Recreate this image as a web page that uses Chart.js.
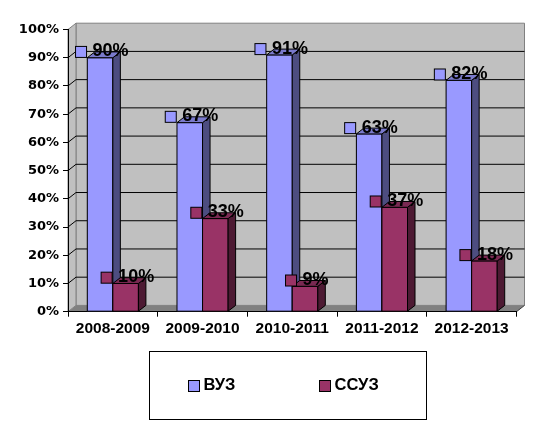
<!DOCTYPE html>
<html><head><meta charset="utf-8">
<script src="https://cdn.jsdelivr.net/npm/chart.js@4"></script>
<style>html,body{margin:0;padding:0;background:#fff;}#wrap{width:539px;height:444px;position:relative;}</style>
</head><body><div id="wrap"><canvas id="c" width="539" height="444"></canvas></div>
<script>
const categories = ['2008-2009','2009-2010','2010-2011','2011-2012','2012-2013'];
const vuz = [90, 67, 91, 63, 82];
const ssuz = [10, 33, 9, 37, 18];
const seriesNames = ['ВУЗ', 'ССУЗ'];
const frontColors = ['#9999FF', '#993366'];
const sideColors = ['#4D4D80', '#4D1A33'];
const topColors = ['#7A7ACC', '#7A2952'];

const WALL_DX = 8, WALL_DY = 6.3, BAR_DX = 7.5, BAR_DY = 5.8;

function poly(ctx, pts, fill, stroke) {
  ctx.beginPath();
  ctx.moveTo(pts[0][0], pts[0][1]);
  for (let i = 1; i < pts.length; i++) ctx.lineTo(pts[i][0], pts[i][1]);
  ctx.closePath();
  if (fill) { ctx.fillStyle = fill; ctx.fill(); }
  if (stroke) { ctx.strokeStyle = stroke; ctx.lineWidth = 1; ctx.stroke(); }
}

const walls = {
  id: 'walls',
  beforeDraw(chart) {
    const { ctx, chartArea: a, scales: { y } } = chart;
    const L = a.left, R = a.right, T = a.top, B = a.bottom;
    const dx = WALL_DX, dy = WALL_DY;
    ctx.save();
    poly(ctx, [[L + dx, T - dy], [R + dx, T - dy], [R + dx, B - dy], [L + dx, B - dy]], '#C0C0C0', '#808080');
    poly(ctx, [[L, T], [L + dx, T - dy], [L + dx, B - dy], [L, B]], '#C0C0C0', '#808080');
    ctx.strokeStyle = '#000'; ctx.lineWidth = 1;
    y.ticks.forEach(t => {
      if (t.value <= 0 || t.value >= 100) return;
      const py = y.getPixelForValue(t.value);
      ctx.beginPath();
      ctx.moveTo(L, py);
      ctx.lineTo(L + dx, py - dy);
      ctx.lineTo(R + dx, py - dy);
      ctx.stroke();
    });
    poly(ctx, [[L, B], [L + dx, B - dy], [R + dx, B - dy], [R, B]], '#808080', null);
    ctx.strokeStyle = '#404040';
    ctx.beginPath(); ctx.moveTo(R, B); ctx.lineTo(R + dx, B - dy); ctx.stroke();
    ctx.restore();
  }
};

const bars3d = {
  id: 'bars3d',
  afterDatasetsDraw(chart) {
    const ctx = chart.ctx;
    const dx = BAR_DX, dy = BAR_DY;
    ctx.save();
    ctx.lineJoin = 'miter';
    const n = categories.length;
    for (let i = 0; i < n; i++) {
      for (let d = 0; d < 2; d++) {
        const el = chart.getDatasetMeta(d).data[i];
        const p = el.getProps(['x', 'y', 'base', 'width'], true);
        const l = p.x - p.width / 2, r = p.x + p.width / 2, t = p.y, b = p.base;
        poly(ctx, [[l, t], [r, t], [r, b], [l, b]], frontColors[d], '#000');
        poly(ctx, [[r, t], [r + dx, t - dy], [r + dx, b - dy], [r, b]], sideColors[d], '#000');
        poly(ctx, [[l, t], [r, t], [r + dx, t - dy], [l + dx, t - dy]], topColors[d], '#000');
      }
    }
    // data labels
    ctx.font = 'bold 18px "Liberation Sans", Arial';
    ctx.textBaseline = 'middle';
    ctx.textAlign = 'left';
    for (let d = 0; d < 2; d++) {
      const meta = chart.getDatasetMeta(d);
      const vals = chart.data.datasets[d].data;
      meta.data.forEach((el, i) => {
        const p = el.getProps(['x', 'y'], true);
        const txt = vals[i] + '%';
        const tw = ctx.measureText(txt).width;
        const key = 11, gap = 6;
        const gw = key + gap + tw;
        const sx = p.x + 2 - gw / 2;
        const cy = p.y - dy;
        ctx.fillStyle = frontColors[d];
        ctx.fillRect(sx, cy - key / 2, key, key);
        ctx.strokeStyle = '#000'; ctx.lineWidth = 1;
        ctx.strokeRect(sx, cy - key / 2, key, key);
        ctx.fillStyle = '#000';
        ctx.fillText(txt, sx + key + gap, cy - 0.5);
      });
    }
    ctx.restore();
  }
};

const legendBox = {
  id: 'legendBox',
  afterDraw(chart) {
    const ctx = chart.ctx;
    ctx.save();
    ctx.strokeStyle = '#000'; ctx.lineWidth = 1;
    ctx.strokeRect(149.5, 351.5, 277, 68);
    ctx.font = 'bold 16.5px "Liberation Sans", Arial';
    ctx.textBaseline = 'alphabetic';
    ctx.textAlign = 'left';
    const keyX = [188, 319];
    chart.data.datasets.forEach((ds, d) => {
      ctx.fillStyle = ds.backgroundColor;
      ctx.fillRect(keyX[d], 380.5, 11, 11);
      ctx.strokeRect(keyX[d] + 0.5, 380.5, 11, 11);
      ctx.fillStyle = '#000';
      ctx.fillText(ds.label, keyX[d] + 15.5, 389.5);
    });
    ctx.restore();
  }
};

new Chart(document.getElementById('c'), {
  type: 'bar',
  data: {
    labels: categories,
    datasets: [
      { label: seriesNames[0], data: vuz, backgroundColor: frontColors[0], borderColor: '#000', borderWidth: 1 },
      { label: seriesNames[1], data: ssuz, backgroundColor: frontColors[1], borderColor: '#000', borderWidth: 1 }
    ]
  },
  options: {
    responsive: false,
    animation: false,
    devicePixelRatio: 1,
    layout: { padding: { top: 29.5, right: 22.5, left: 0, bottom: 0 } },
    datasets: { bar: { categoryPercentage: 0.57, barPercentage: 1.0 } },
    plugins: { legend: { display: false }, tooltip: { enabled: false } },
    scales: {
      x: {
        offset: true,
        grid: { offset: true, drawOnChartArea: false, drawTicks: true, tickLength: 5, color: '#000' },
        border: { display: true, color: '#000', width: 1 },
        ticks: { color: '#000', font: { family: '"Liberation Sans", Arial', weight: 'bold', size: 15.5 }, padding: 3, maxRotation: 0, autoSkip: false },
        afterFit(scale) { scale.height = 132.3; }
      },
      y: {
        min: 0, max: 100,
        grid: { drawOnChartArea: false, drawTicks: true, tickLength: 5, color: '#000' },
        border: { display: true, color: '#000', width: 1 },
        ticks: { stepSize: 10, color: '#000', font: { family: '"DejaVu Sans"', weight: 'bold', size: 13 }, padding: 4, callback: v => v + '%' },
        afterFit(scale) { scale.width = 68; }
      }
    }
  },
  plugins: [walls, bars3d, legendBox]
});
</script>
</body></html>
